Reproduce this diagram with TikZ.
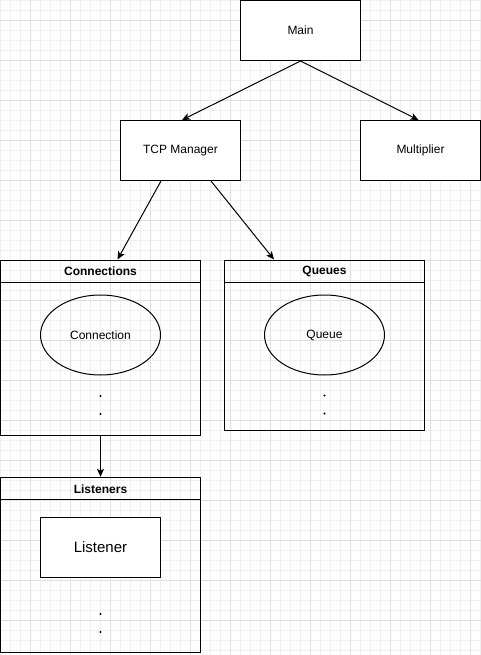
\documentclass[tikz,border=0pt]{standalone}
\usepackage{fontspec}
\setmainfont{Liberation Sans}
\usetikzlibrary{arrows.meta,calc,shapes.geometric}
\begin{document}
\begin{tikzpicture}[x=1pt,y=-1pt,
  minorgrid/.style={draw=black!6,line width=0.8pt},
  majorgrid/.style={draw=black!12,line width=0.9pt},
  box/.style={draw,line width=1pt,fill=white,rectangle,minimum width=120pt,minimum height=60pt,inner sep=0pt,font=\fontsize{12}{14}\selectfont},
  lane/.style={draw,line width=1pt,rectangle,minimum width=200pt,inner sep=0pt},
  lanetitle/.style={font=\fontsize{12}{14}\selectfont\bfseries,inner sep=0pt},
  oval/.style={draw,line width=1pt,ellipse,minimum width=120pt,minimum height=80pt,inner sep=0pt,font=\fontsize{12}{14}\selectfont},
  arr/.style={line width=1pt,-{Stealth[length=8pt,width=7pt,inset=2pt]}},
  dot/.style={fill=black,circle,inner sep=0pt,minimum size=2.4pt}]
\useasboundingbox (0,0) rectangle (481,655);

% background grid
\foreach \x in {0.5,10.5,...,480.5} \draw[minorgrid] (\x,0) -- (\x,655);
\foreach \y in {0.5,10.5,...,654.5} \draw[minorgrid] (0,\y) -- (481,\y);
\foreach \x in {30.5,70.5,...,470.5} \draw[majorgrid] (\x,0) -- (\x,655);
\foreach \y in {20.5,60.5,...,640.5} \draw[majorgrid] (0,\y) -- (481,\y);

% top level boxes
\node[box] (main) at (300.5,30.5) {Main};
\node[box] (tcp) at (180.5,150.5) {TCP Manager};
\node[box] (mult) at (420.5,150.5) {Multiplier};

% Connections container
\node[lane,minimum height=175pt] (conn) at (100.5,347.5) {};
\draw[line width=1pt] ($(conn.north west)+(0,23)$) coordinate (connhl) -- ($(conn.north east)+(0,23)$) coordinate (connhr);
\node[lanetitle] (conntitle) at ($(conn.north)+(0,12)$) {Connections};
\node[oval] (connection) at (100.5,335) {Connection};
\node[dot] (cd1) at (100.5,396) {};
\node[dot] (cd2) at (100.5,414) {};

% Queues container
\node[lane,minimum height=170pt] (queues) at (324.5,345) {};
\draw[line width=1pt] ($(queues.north west)+(0,23)$) coordinate (qhl) -- ($(queues.north east)+(0,23)$) coordinate (qhr);
\node[lanetitle] (qtitle) at ($(queues.north)+(0,12)$) {Queues};
\node[oval] (queue) at (324.5,335) {Queue};
\node[dot] (qd1) at (324.5,395.5) {};
\node[dot] (qd2) at (324.5,413.5) {};

% Listeners container
\node[lane,minimum height=175pt] (list) at (100.5,564.8) {};
\draw[line width=1pt] ($(list.north west)+(0,23)$) coordinate (lhl) -- ($(list.north east)+(0,23)$) coordinate (lhr);
\node[lanetitle] (ltitle) at ($(list.north)+(0,12)$) {Listeners};
\node[box,font=\fontsize{15}{18}\selectfont] (listener) at (100.5,547.3) {Listener};
\node[dot] (ld1) at (100.5,614) {};
\node[dot] (ld2) at (100.5,632) {};

% connectors
\draw[arr] (main.south) -- ($(tcp.north)+(1.5,0)$);
\draw[arr] (main.south) -- ($(mult.north)+(-2,0)$);
\draw[arr] ($(tcp.south)+(-19.5,0)$) -- ($(conn.north)+(17,0)$);
\draw[arr] ($(tcp.south)+(30.5,0)$) -- ($(queues.north)+(-50.5,0)$);
\draw[arr] (conn.south) -- (list.north);
\end{tikzpicture}
\end{document}
